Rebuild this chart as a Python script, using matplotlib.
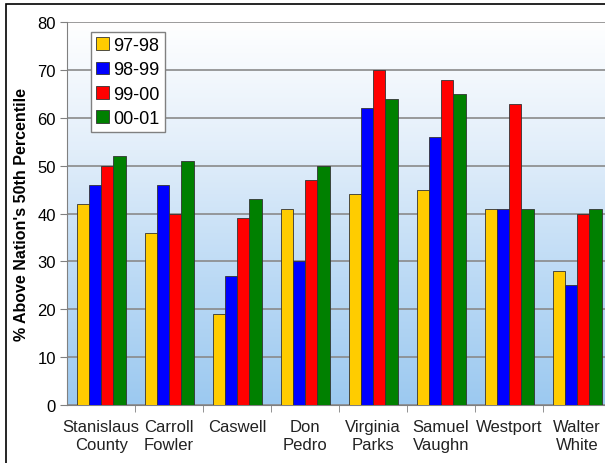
import matplotlib
matplotlib.use("Agg")
import matplotlib.pyplot as plt
import numpy as np
from matplotlib.colors import LinearSegmentedColormap
from matplotlib.patches import Rectangle

plt.rcParams['font.family'] = ['Liberation Sans', 'DejaVu Sans']

# schools and yearly scores
schools = ['Stanislaus\nCounty', 'Carroll\nFowler', 'Caswell', 'Don\nPedro',
           'Virginia\nParks', 'Samuel\nVaughn', 'Westport', 'Walter\nWhite']
years = ['97-98', '98-99', '99-00', '00-01']
y9798 = [42, 36, 19, 41, 44, 45, 41, 28]
y9899 = [46, 46, 27, 30, 62, 56, 41, 25]
y9900 = [50, 40, 39, 47, 70, 68, 63, 40]
y0001 = [52, 51, 43, 50, 64, 65, 41, 41]
colors = ['#FFCC00', '#0000FF', '#FF0000', '#008000']

fig = plt.figure(figsize=(6.05, 4.64), dpi=100)
ax = fig.add_axes([0.111, 0.125, 0.899, 0.825])

# background gradient, light blue at bottom fading to white at top
cmap = LinearSegmentedColormap.from_list('bg', ['#9CC9F0', '#BCDAF5', '#E2EEFA', '#FFFFFF'])
grad = np.linspace(0, 1, 256).reshape(-1, 1)
ax.imshow(grad, extent=[-0.5, 7.5, 0, 80], origin='lower', aspect='auto',
          cmap=cmap, zorder=0)

x = np.arange(len(schools))
w = 0.18
series = [y9798, y9899, y9900, y0001]
for i, vals in enumerate(series):
    ax.bar(x + (i - 1.5) * w, vals, width=w, color=colors[i], edgecolor='#333333',
           linewidth=0.6, label=years[i], zorder=3)

ax.set_xlim(-0.5, 7.5)
ax.set_ylim(0, 80)
ax.set_yticks(range(0, 81, 10))
ax.yaxis.grid(True, color='#8A8A8A', linewidth=1.2, zorder=1)
ax.set_axisbelow(True)

ax.set_xticks(x)
ax.set_xticklabels(schools, fontsize=12, color='#222222', linespacing=1.3)
ax.tick_params(axis='x', which='major', length=0, pad=10)
ax.set_xticks(np.arange(0.5, 7.5, 1), minor=True)
ax.tick_params(axis='x', which='minor', length=5, color='#808080')
ax.tick_params(axis='y', labelsize=12, length=5, color='#808080', pad=3)

for s in ['top', 'right']:
    ax.spines[s].set_visible(False)
ax.spines['left'].set_color('#808080')
ax.spines['bottom'].set_color('#808080')

ax.set_ylabel("% Above Nation's 50th Percentile", fontsize=11.5, fontweight='bold', labelpad=6)

leg = ax.legend(loc='upper left', bbox_to_anchor=(0.04, 0.98), fontsize=13,
                handlelength=0.7, handleheight=0.7, handletextpad=0.25,
                labelspacing=0.4, borderpad=0.3, borderaxespad=0.1,
                fancybox=False, framealpha=1)
leg.get_frame().set_edgecolor('#808080')
leg.get_frame().set_facecolor('white')

# outer frame
fig.patches.append(Rectangle((6 / 605, -0.01), 1.0, 1 - 5 / 464 + 0.01,
                             transform=fig.transFigure, fill=False,
                             edgecolor='black', linewidth=1.2))

fig.savefig('out.png', dpi=100)
